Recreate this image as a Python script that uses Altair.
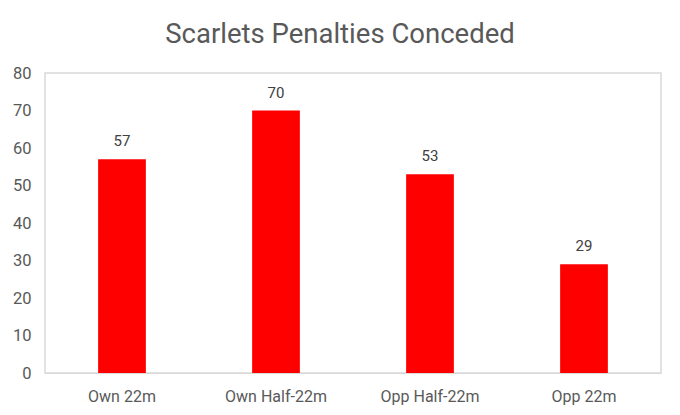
import altair as alt
import pandas as pd

categories = ["Own 22m", "Own Half-22m", "Opp Half-22m", "Opp 22m"]
values = [57, 70, 53, 29]

df = pd.DataFrame({"zone": categories, "penalties": values})

FONT = "Roboto"

base = alt.Chart(df).encode(
    x=alt.X("zone:N", sort=categories, title=None,
            scale=alt.Scale(paddingInner=0.69, paddingOuter=0.345),
            axis=alt.Axis(labelAngle=0, labelFontSize=16, labelColor="#595959",
                          labelFont=FONT, labelPadding=15, domain=True,
                          domainColor="#d9d9d9", ticks=False, grid=False)),
    y=alt.Y("penalties:Q", title=None,
            scale=alt.Scale(domain=[0, 80], nice=False),
            axis=alt.Axis(values=list(range(0, 81, 10)), labelFontSize=16.5,
                          labelColor="#595959", labelFont=FONT, labelPadding=14,
                          domain=False, ticks=False, grid=False)),
)

bars = base.mark_bar(color="#ff0000")
labels = base.mark_text(baseline="bottom", dy=-10, fontSize=15, color="#404040",
                        font=FONT).encode(text="penalties:Q")

chart = (bars + labels).properties(
    width=616, height=300,
    title=alt.Title("Scarlets Penalties Conceded", fontSize=27.5, color="#595959",
                    font=FONT, fontWeight="normal", anchor="middle", dx=-13,
                    offset=17),
    autosize=alt.AutoSizeParams(type="none"),
    padding={"left": 37, "top": 65, "right": 11, "bottom": 34},
).configure_view(stroke="#d9d9d9", strokeWidth=1.5)

chart.save("out.html", embed_options={"renderer": "svg", "actions": False})
